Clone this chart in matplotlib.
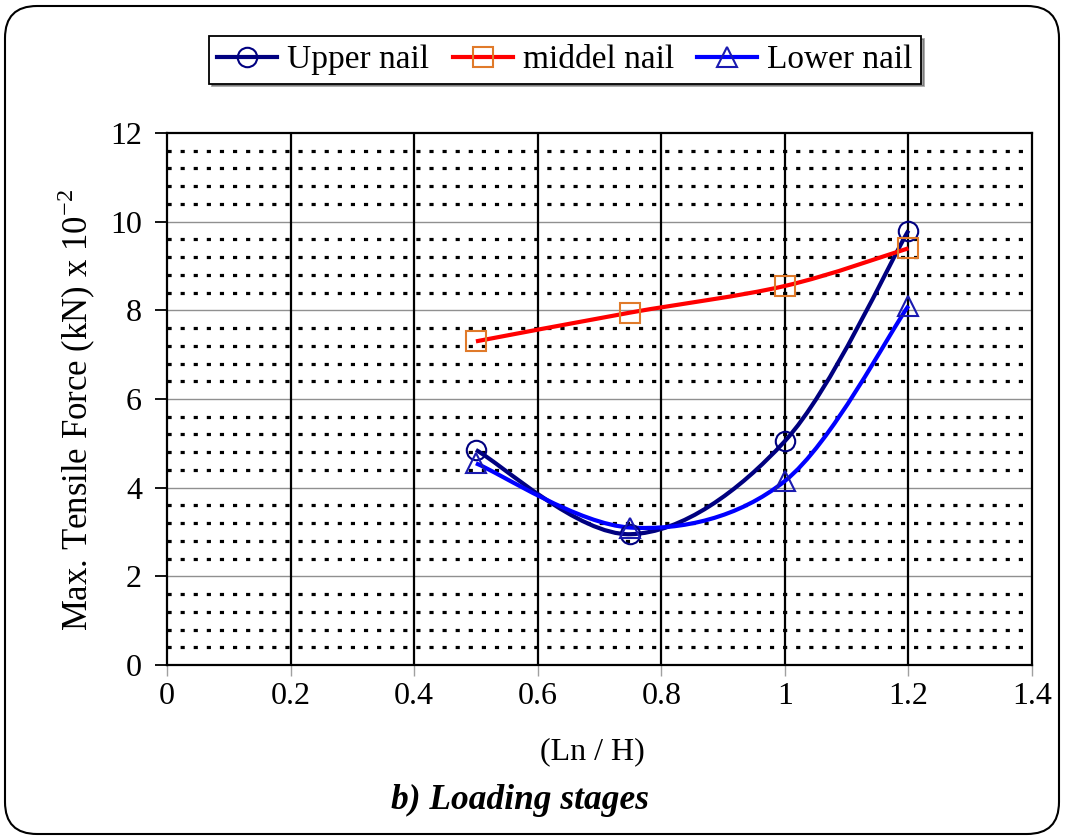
import matplotlib
matplotlib.use("Agg")
import matplotlib.pyplot as plt
from matplotlib.path import Path
from matplotlib.patches import PathPatch, FancyBboxPatch
from matplotlib.lines import Line2D
from matplotlib.transforms import IdentityTransform
import numpy as np

plt.rcParams['font.family'] = ['Liberation Serif', 'DejaVu Serif']
plt.rcParams['mathtext.fontset'] = 'custom'
plt.rcParams['mathtext.rm'] = 'Liberation Serif'

# data
ln_h = [0.5, 0.75, 1.0, 1.2]
upper_nail = [4.85, 2.95, 5.05, 9.8]
middel_nail = [7.3, 7.95, 8.55, 9.4]
lower_nail = [4.55, 3.1, 4.15, 8.1]

x_ticks = [0, 0.2, 0.4, 0.6, 0.8, 1.0, 1.2, 1.4]
x_tick_labels = ["0", "0.2", "0.4", "0.6", "0.8", "1", "1.2", "1.4"]
y_ticks = [0, 2, 4, 6, 8, 10, 12]


def smooth_path(xs, ys):
    # Excel-like smoothed line: cubic bezier through the points
    pts = np.column_stack([xs, ys]).astype(float)
    n = len(pts)
    verts = [pts[0]]
    codes = [Path.MOVETO]
    for i in range(n - 1):
        p0 = pts[i - 1] if i > 0 else pts[i]
        p1 = pts[i]
        p2 = pts[i + 1]
        p3 = pts[i + 2] if i + 2 < n else pts[i + 1]
        c1 = p1 + (p2 - p0) / 6.0
        c2 = p2 - (p3 - p1) / 6.0
        verts += [c1, c2, p2]
        codes += [Path.CURVE4] * 3
    return Path(verts, codes)


fig = plt.figure(figsize=(10.65, 8.39), dpi=100)
ax = fig.add_axes([167 / 1065, 1 - 665 / 839, 865 / 1065, 532 / 839])

# grid
for yv in np.arange(0.4, 12, 0.4):
    if abs(yv / 2 - round(yv / 2)) < 1e-6:
        ax.axhline(yv, color="#909090", lw=1.0, zorder=1)
    else:
        ax.axhline(yv, color="black", lw=2.3, ls=(0, (1.3, 2.8)), zorder=1)
for xv in x_ticks[1:-1]:
    ax.axvline(xv, color="black", lw=1.6, zorder=1)

series = [
    (upper_nail, "#000080", "o", "#000080", "Upper nail"),
    (middel_nail, "#ff0000", "s", "#e07a2a", "middel nail"),
    (lower_nail, "#0000ff", "^", "#1a1ab0", "Lower nail"),
]
handles = []
for vals, col, mk, mcol, lab in series:
    ax.add_patch(PathPatch(smooth_path(ln_h, vals), fill=False, edgecolor=col, lw=3.0, zorder=3))
    ax.plot(ln_h, vals, ls="none", marker=mk, ms=14, mfc="none", mec=mcol, mew=1.5, zorder=4)
    handles.append(Line2D([], [], color=col, lw=3.0, marker=mk, ms=14, mfc="none", mec=mcol, mew=1.5, label=lab))

ax.set_xlim(0, 1.4)
ax.set_ylim(0, 12)
ax.set_xticks(x_ticks)
ax.set_xticklabels(x_tick_labels)
ax.set_yticks(y_ticks)
ax.tick_params(axis="y", direction="out", length=9, width=1.3, pad=9, labelsize=23)
ax.tick_params(axis="x", direction="out", length=8, width=1.0, color="#a0a0a0", pad=4, labelsize=23)
for s in ax.spines.values():
    s.set_color("black")
    s.set_linewidth(1.6)

fig.text(77 / 1065, 1 - 410 / 839, "Max. Tensile Force (kN) x 10$^{-2}$", rotation=90,
         ha="center", va="center", fontsize=25)
fig.text(592 / 1065, 1 - 752 / 839, "(Ln / H)", ha="center", va="center", fontsize=23)
fig.text(520 / 1065, 1 - 800 / 839, "b) Loading stages", ha="center", va="center",
         fontsize=25.5, fontweight="bold", fontstyle="italic")

leg = fig.legend(handles=handles, loc="center", bbox_to_anchor=(565 / 1065, 1 - 60 / 839),
                 ncol=3, fontsize=24, frameon=True, fancybox=False, shadow=True,
                 edgecolor="black", framealpha=1, handlelength=1.8, handletextpad=0.3,
                 columnspacing=0.7, borderpad=0.25)
leg.get_frame().set_linewidth(1.3)

# rounded outer frame
frame = FancyBboxPatch((5, 5), 1054, 828, boxstyle="round,pad=0,rounding_size=32",
                       transform=IdentityTransform(), fill=False, edgecolor="black", lw=1.5)
fig.patches.append(frame)

fig.savefig("out.png", dpi=100)
